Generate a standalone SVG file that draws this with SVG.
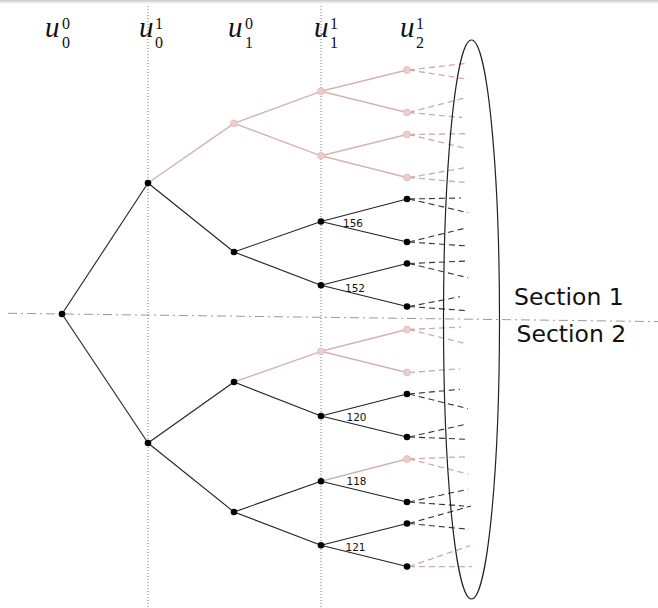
<svg xmlns="http://www.w3.org/2000/svg" width="658" height="608" viewBox="0 0 658 608">
  <defs>
    <linearGradient id="topShade" x1="0" y1="0" x2="0" y2="1">
      <stop offset="0" stop-color="#c8c8c8"/>
      <stop offset="1" stop-color="#ffffff"/>
    </linearGradient>
  </defs>
  <style>
    .guide { stroke: #777; stroke-width: 1; stroke-dasharray: 1 2; fill: none; }
    .split { stroke: #999; stroke-width: 1; stroke-dasharray: 9 4 2 4; fill: none; }
    .edge { stroke: #222; stroke-width: 1.1; fill: none; }
    .edge.pale { stroke: #d2b4b4; stroke-width: 1.4; }
    .leaf { stroke: #333; stroke-width: 1.1; stroke-dasharray: 6 4; fill: none; }
    .leaf.pale { stroke: #c9abab; stroke-width: 1.3; }
    .node { fill: #000; }
    .node.pale { fill: #f2cccc; stroke: #dcb8b8; stroke-width: 0.8; }
    .var { font-family: "Liberation Serif", "DejaVu Serif", serif; font-style: italic; font-weight: normal; font-size: 29px; fill: #111; }
    .idx { font-family: "Liberation Serif", "DejaVu Serif", serif; font-weight: normal; font-size: 16px; fill: #111; }
    .cost { font-family: "DejaVu Sans", sans-serif; font-size: 10.5px; fill: #111; }
    .section { font-family: "DejaVu Sans", sans-serif; font-size: 23.5px; fill: #111; }
    .scope { fill: none; stroke: #222; stroke-width: 1.2; }
  </style>

  <rect x="0" y="0" width="658" height="608" fill="#fff"/>
  <rect x="0" y="0" width="658" height="4" fill="url(#topShade)"/>

  <!-- stage guides -->
  <line class="guide" x1="148" y1="6" x2="148" y2="608"/>
  <line class="guide" x1="321" y1="6" x2="321" y2="608"/>
  <line class="split" x1="8" y1="313.3" x2="658" y2="321.6"/>

  <!-- stage headings -->
  <g id="headings">
    <text class="var" x="45" y="37">u</text><text class="idx" x="62" y="29">0</text><text class="idx" x="62" y="48">0</text>
    <text class="var" x="139" y="37">u</text><text class="idx" x="155" y="29">1</text><text class="idx" x="155" y="48">0</text>
    <text class="var" x="228" y="37">u</text><text class="idx" x="245" y="29">0</text><text class="idx" x="245" y="48">1</text>
    <text class="var" x="314" y="37">u</text><text class="idx" x="330" y="29">1</text><text class="idx" x="330" y="48">1</text>
    <text class="var" x="400" y="37">u</text><text class="idx" x="416" y="29">1</text><text class="idx" x="416" y="48">2</text>
  </g>

  <!-- connectors -->
  <g id="connectors">
    <line class="edge" x1="62" y1="314" x2="148" y2="183"/>
    <line class="edge" x1="62" y1="314" x2="148" y2="443"/>
    <line class="edge pale" x1="148" y1="183" x2="234" y2="123.3"/>
    <line class="edge" x1="148" y1="183" x2="234" y2="252"/>
    <line class="edge" x1="148" y1="443" x2="234" y2="382"/>
    <line class="edge" x1="148" y1="443" x2="234" y2="512"/>

    <line class="edge pale" x1="234" y1="123.3" x2="321" y2="91.3"/>
    <line class="edge pale" x1="234" y1="123.3" x2="321" y2="155.8"/>
    <line class="edge" x1="234" y1="252" x2="321" y2="221.5"/>
    <line class="edge" x1="234" y1="252" x2="321" y2="285.3"/>
    <line class="edge pale" x1="234" y1="382" x2="321" y2="351.3"/>
    <line class="edge" x1="234" y1="382" x2="321" y2="416"/>
    <line class="edge" x1="234" y1="512" x2="321" y2="481.3"/>
    <line class="edge" x1="234" y1="512" x2="321" y2="545.3"/>

    <line class="edge pale" x1="321" y1="91.3" x2="407" y2="70"/>
    <line class="edge pale" x1="321" y1="91.3" x2="407" y2="112.5"/>
    <line class="edge pale" x1="321" y1="155.8" x2="407" y2="134.5"/>
    <line class="edge pale" x1="321" y1="155.8" x2="407" y2="177.5"/>
    <line class="edge" x1="321" y1="221.5" x2="407" y2="199"/>
    <line class="edge" x1="321" y1="221.5" x2="407" y2="242"/>
    <line class="edge" x1="321" y1="285.3" x2="407" y2="263.5"/>
    <line class="edge" x1="321" y1="285.3" x2="407" y2="306.5"/>
    <line class="edge pale" x1="321" y1="351.3" x2="407" y2="329.5"/>
    <line class="edge pale" x1="321" y1="351.3" x2="407" y2="372.5"/>
    <line class="edge" x1="321" y1="416" x2="407" y2="394"/>
    <line class="edge" x1="321" y1="416" x2="407" y2="437"/>
    <line class="edge pale" x1="321" y1="481.3" x2="407" y2="459"/>
    <line class="edge" x1="321" y1="481.3" x2="407" y2="502"/>
    <line class="edge" x1="321" y1="545.3" x2="407" y2="523.5"/>
    <line class="edge" x1="321" y1="545.3" x2="407" y2="566.5"/>

    <!-- continuation stubs beyond the last stage -->
    <line class="leaf pale" x1="409" y1="70" x2="467" y2="63.3"/>
    <line class="leaf pale" x1="409" y1="70" x2="468" y2="79.3"/>
    <line class="leaf pale" x1="409" y1="112.5" x2="466" y2="97.7"/>
    <line class="leaf pale" x1="409" y1="112.5" x2="462" y2="117.5"/>
    <line class="leaf pale" x1="409" y1="134.5" x2="468" y2="133.7"/>
    <line class="leaf pale" x1="409" y1="134.5" x2="467" y2="148.7"/>
    <line class="leaf pale" x1="409" y1="177.5" x2="467" y2="167.3"/>
    <line class="leaf pale" x1="409" y1="177.5" x2="468" y2="182.7"/>

    <line class="leaf" x1="409" y1="199" x2="461" y2="198"/>
    <line class="leaf" x1="409" y1="199" x2="468" y2="212.7"/>
    <line class="leaf" x1="409" y1="242" x2="466" y2="228"/>
    <line class="leaf" x1="409" y1="242" x2="468" y2="246"/>
    <line class="leaf" x1="409" y1="263.5" x2="468" y2="261"/>
    <line class="leaf" x1="409" y1="263.5" x2="468" y2="277.7"/>
    <line class="leaf" x1="409" y1="306.5" x2="460" y2="296.7"/>
    <line class="leaf" x1="409" y1="306.5" x2="467" y2="310.7"/>

    <line class="leaf pale" x1="409" y1="329.5" x2="461" y2="327"/>
    <line class="leaf pale" x1="409" y1="329.5" x2="467" y2="344"/>
    <line class="leaf pale" x1="409" y1="372.5" x2="460" y2="368.7"/>
    <line class="leaf" x1="409" y1="394" x2="460" y2="389.3"/>
    <line class="leaf" x1="409" y1="394" x2="468" y2="408.7"/>
    <line class="leaf" x1="409" y1="437" x2="467" y2="424"/>
    <line class="leaf" x1="409" y1="437" x2="468" y2="439.3"/>

    <line class="leaf pale" x1="409" y1="459" x2="468" y2="456.7"/>
    <line class="leaf pale" x1="409" y1="459" x2="468" y2="474"/>
    <line class="leaf" x1="409" y1="502" x2="468" y2="489.3"/>
    <line class="leaf" x1="409" y1="502" x2="464" y2="506"/>
    <line class="leaf" x1="409" y1="523.5" x2="471" y2="506"/>
    <line class="leaf" x1="409" y1="523.5" x2="469" y2="529.3"/>
    <line class="leaf pale" x1="409" y1="566.5" x2="470" y2="545.7"/>
    <line class="leaf pale" x1="409" y1="566.5" x2="472" y2="566.7"/>
  </g>

  <!-- nodes -->
  <g id="n-root"><circle class="node" cx="62" cy="314" r="3.3"/></g>
  <g id="n-1a"><circle class="node" cx="148" cy="183" r="3.3"/></g>
  <g id="n-1b"><circle class="node" cx="148" cy="443" r="3.3"/></g>
  <g id="n-2a"><circle class="node pale" cx="234" cy="123.3" r="3.4"/></g>
  <g id="n-2b"><circle class="node" cx="234" cy="252" r="3.3"/></g>
  <g id="n-2c"><circle class="node" cx="234" cy="382" r="3.3"/></g>
  <g id="n-2d"><circle class="node" cx="234" cy="512" r="3.3"/></g>

  <g id="n-3a"><circle class="node pale" cx="321" cy="91.3" r="3.4"/></g>
  <g id="n-3b"><circle class="node pale" cx="321" cy="155.8" r="3.4"/></g>
  <g id="n-3c"><circle class="node" cx="321" cy="221.5" r="3.3"/><text class="cost" x="343" y="227">156</text></g>
  <g id="n-3d"><circle class="node" cx="321" cy="285.3" r="3.3"/><text class="cost" x="345" y="292">152</text></g>
  <g id="n-3e"><circle class="node pale" cx="321" cy="351.3" r="3.4"/></g>
  <g id="n-3f"><circle class="node" cx="321" cy="416" r="3.3"/><text class="cost" x="346.5" y="421">120</text></g>
  <g id="n-3g"><circle class="node" cx="321" cy="481.3" r="3.3"/><text class="cost" x="346.5" y="484.5">118</text></g>
  <g id="n-3h"><circle class="node" cx="321" cy="545.3" r="3.3"/><text class="cost" x="345.5" y="551">121</text></g>

  <g id="n-4a"><circle class="node pale" cx="407" cy="70" r="3.4"/></g>
  <g id="n-4b"><circle class="node pale" cx="407" cy="112.5" r="3.4"/></g>
  <g id="n-4c"><circle class="node pale" cx="407" cy="134.5" r="3.4"/></g>
  <g id="n-4d"><circle class="node pale" cx="407" cy="177.5" r="3.4"/></g>
  <g id="n-4e"><circle class="node" cx="407" cy="199" r="3.3"/></g>
  <g id="n-4f"><circle class="node" cx="407" cy="242" r="3.3"/></g>
  <g id="n-4g"><circle class="node" cx="407" cy="263.5" r="3.3"/></g>
  <g id="n-4h"><circle class="node" cx="407" cy="306.5" r="3.3"/></g>
  <g id="n-4i"><circle class="node pale" cx="407" cy="329.5" r="3.4"/></g>
  <g id="n-4j"><circle class="node pale" cx="407" cy="372.5" r="3.4"/></g>
  <g id="n-4k"><circle class="node" cx="407" cy="394" r="3.3"/></g>
  <g id="n-4l"><circle class="node" cx="407" cy="437" r="3.3"/></g>
  <g id="n-4m"><circle class="node pale" cx="407" cy="459" r="3.4"/></g>
  <g id="n-4n"><circle class="node" cx="407" cy="502" r="3.3"/></g>
  <g id="n-4o"><circle class="node" cx="407" cy="523.5" r="3.3"/></g>
  <g id="n-4p"><circle class="node" cx="407" cy="566.5" r="3.3"/></g>

  <!-- final-stage grouping -->
  <g id="leaf-scope"><ellipse class="scope" cx="471.5" cy="319.5" rx="28" ry="279.5"/></g>

  <g id="sections">
    <text class="section" x="514" y="305">Section 1</text>
    <text class="section" x="516.5" y="341.5">Section 2</text>
  </g>
</svg>
